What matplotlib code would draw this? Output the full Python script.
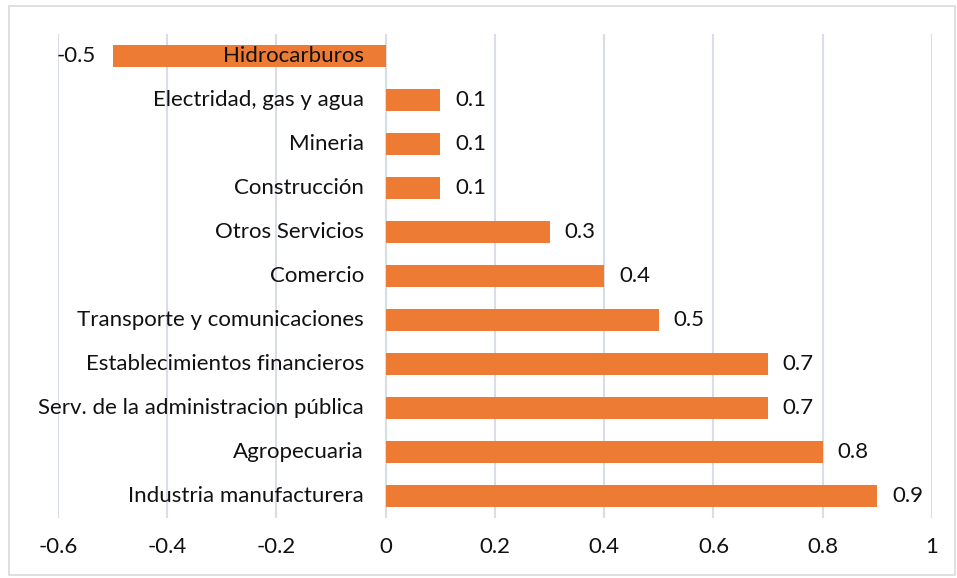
import matplotlib.pyplot as plt
from matplotlib.patches import Rectangle

sectores = ["Hidrocarburos", "Electridad, gas y agua", "Mineria", "Construcción",
            "Otros Servicios", "Comercio", "Transporte y comunicaciones",
            "Establecimientos financieros", "Serv. de la administracion pública",
            "Agropecuaria", "Industria manufacturera"]
valores = [-0.5, 0.1, 0.1, 0.1, 0.3, 0.4, 0.5, 0.7, 0.7, 0.8, 0.9]
ticks = [-0.6, -0.4, -0.2, 0, 0.2, 0.4, 0.6, 0.8, 1]
tick_labels = ["-0.6", "-0.4", "-0.2", "0", "0.2", "0.4", "0.6", "0.8", "1"]

plt.rcParams['font.family'] = ['Lato', 'DejaVu Sans']
fs = 16

fig = plt.figure(figsize=(9.57, 5.78), dpi=100)
ax = fig.add_axes([58/957, 1 - 518/578, (932 - 58)/957, (518 - 34)/578])

pos = list(range(len(sectores)))
ax.barh(pos, valores, height=0.5, color="#EE7B33", zorder=3)

for y, name, v in zip(pos, sectores, valores):
    ax.text(-0.04, y, name, ha="right", va="center", fontsize=fs, color="#111111", zorder=4)
    if v >= 0:
        ax.text(v + 0.027, y, f"{v:.1f}", ha="left", va="center", fontsize=fs, color="#111111")
    else:
        ax.text(v - 0.03, y, f"{v:.1f}", ha="right", va="center", fontsize=fs, color="#111111")

ax.set_xlim(-0.6, 1.0)
ax.set_ylim(len(sectores) - 0.5, -0.5)
ax.set_xticks(ticks)
ax.set_xticklabels(tick_labels, fontsize=fs, color="#111111")
ax.set_yticks([])
ax.tick_params(axis="x", length=0, pad=14)
ax.grid(axis="x", color="#D9DEE6", linewidth=1.5, zorder=0)
for s in ax.spines.values():
    s.set_visible(False)

fig.patches.append(Rectangle((9/957, 3/578), 946/957, 569/578, transform=fig.transFigure,
                             fill=False, edgecolor="#D9D9D9", linewidth=1.2))

fig.savefig("out.png", dpi=100)
